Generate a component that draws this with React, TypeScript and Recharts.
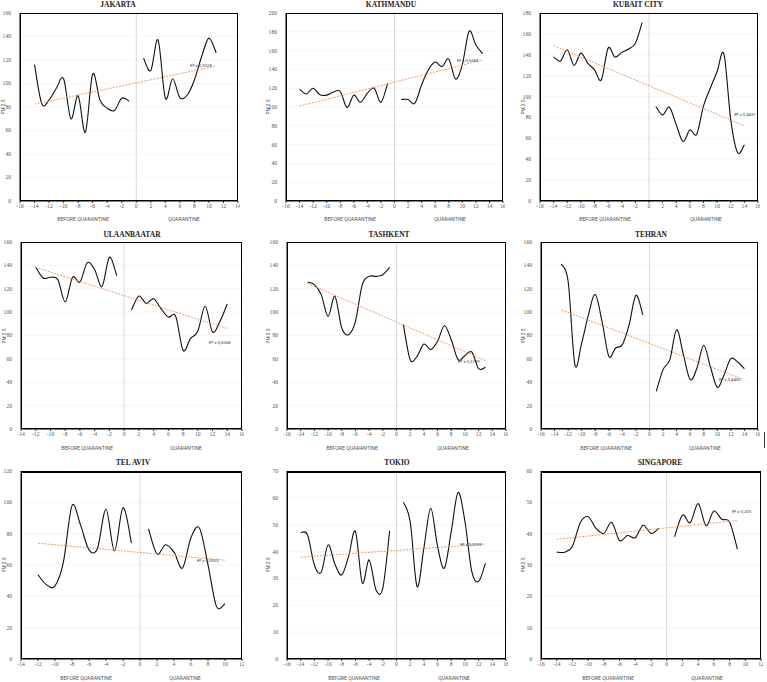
import React from 'react';
import { LineChart, Line, XAxis, YAxis, CartesianGrid, ReferenceLine, ReferenceDot } from 'recharts';

// ---------- categories (days) ----------
const before14 = [-14, -13, -12, -11, -10, -9, -8, -7, -6, -5, -4, -3, -2, -1];
const before13 = [-13, -12, -11, -10, -9, -8, -7, -6, -5, -4, -3, -2, -1];
const before12 = [-12, -11, -10, -9, -8, -7, -6, -5, -4, -3, -2, -1];
const quar9 = [1, 2, 3, 4, 5, 6, 7, 8, 9];
const quar10 = [1, 2, 3, 4, 5, 6, 7, 8, 9, 10];
const quar11 = [1, 2, 3, 4, 5, 6, 7, 8, 9, 10, 11];
const quar13 = [1, 2, 3, 4, 5, 6, 7, 8, 9, 10, 11, 12, 13];
const quar14 = [1, 2, 3, 4, 5, 6, 7, 8, 9, 10, 11, 12, 13, 14];

// ---------- tick labels ----------
const xTicksA = [-16, -14, -12, -10, -8, -6, -4, -2, 0, 2, 4, 6, 8, 10, 12, 14];
const xTicksB = [-16, -14, -12, -10, -8, -6, -4, -2, 0, 2, 4, 6, 8, 10, 12, 14, 16];
const xTicksC = [-14, -12, -10, -8, -6, -4, -2, 0, 2, 4, 6, 8, 10, 12, 14, 16];
const xTicksD = [-14, -12, -10, -8, -6, -4, -2, 0, 2, 4, 6, 8, 10, 12];
const xTicksE = [-16, -14, -12, -10, -8, -6, -4, -2, 0, 2, 4, 6, 8, 10, 12];
const yTicks160 = [0, 20, 40, 60, 80, 100, 120, 140, 160];
const yTicks180 = [0, 20, 40, 60, 80, 100, 120, 140, 160, 180];
const yTicks200 = [0, 20, 40, 60, 80, 100, 120, 140, 160, 180, 200];
const yTicks120 = [0, 20, 40, 60, 80, 100, 120];
const yTicks70 = [0, 10, 20, 30, 40, 50, 60, 70];
const yTicks60 = [0, 10, 20, 30, 40, 50, 60];

// ---------- series values (PM 2.5) ----------
const jakartaBefore = [116, 82.7, 86, 96, 104, 70, 89.5, 58.5, 108, 86, 79, 77, 87.5, 85];
const jakartaQuar = [121.6, 111, 137, 87.5, 104, 88, 90, 103, 123, 138.6, 126];
const jakartaTrend = [82.4, 114.8];

const kathmanduBefore = [119, 114, 120, 113, 112.6, 116, 116.5, 99.5, 112.6, 105, 114.7, 120, 105, 125.4];
const kathmanduQuar = [108, 108, 104, 123.6, 139.6, 147.8, 143, 151, 129.7, 145, 180.5, 166, 156.7];
const kathmanduTrend = [101, 150];

const kubaitBefore = [137.8, 134, 144.8, 129.8, 141.6, 132, 125.6, 116, 146.4, 137.8, 142.3, 145.5, 151, 171];
const kubaitQuar = [90.5, 82.5, 89.8, 72.9, 57, 68, 64, 91, 108, 124, 140.7, 77.7, 46.4, 53.7];
const kubaitTrend = [148.7, 72];

const ulaanBefore = [138.6, 129.2, 129.8, 127.8, 108.7, 129.8, 125.8, 142.3, 136.3, 122, 146.9, 131.2];
const ulaanQuar = [101.8, 113.8, 107.5, 111.5, 103, 95.8, 96.4, 67.3, 77.3, 83.6, 105, 83, 92, 107];
const ulaanTrend = [138.3, 85.9];

const tashkentBefore = [125.8, 123.5, 115, 96.4, 113.5, 86.4, 80.7, 92, 123.5, 130.6, 130.6, 132, 138.3];
const tashkentQuar = [89.3, 59.3, 62.2, 72.7, 67.9, 75, 88.4, 76.4, 59.3, 62.7, 65.9, 51.6, 52.8];
const tashkentTrend = [124.6, 58.5];

const tehranBefore = [141.2, 126.4, 55, 73.6, 97.8, 115, 92, 62.2, 69.3, 72.2, 89.3, 114.4, 97.8];
const tehranQuar = [32.2, 50.8, 59.3, 85, 63.6, 42.2, 52.2, 71.6, 52.8, 35.7, 46.5, 60.2, 57.3, 51.6];
const tehranTrend = [102, 42.2];

const telavivBefore = [53.7, 47.4, 46.7, 62.2, 97.9, 85.6, 69.7, 70.7, 95.6, 69, 96.6, 73.9];
const telavivQuar = [83, 67.1, 72.9, 68.2, 58, 77.5, 83.5, 60.1, 33.6, 35.3];
const telavivTrend = [73.9, 63.1];

const tokioBefore = [47.1, 46.2, 35, 32.3, 42.5, 35.3, 31.3, 38.2, 47.5, 28.3, 36.9, 25.8, 26.4, 47.7];
const tokioQuar = [58.4, 51.2, 27, 41.3, 56.1, 41.9, 33.8, 47.5, 62, 51.2, 32.6, 28.9, 35.7];
const tokioTrend = [37.9, 42.8];

const singaporeBefore = [34.1, 34.1, 36, 43.5, 45.4, 41.7, 40.1, 43.6, 37.8, 39.4, 38.7, 42.7, 40.1, 41.7];
const singaporeQuar = [39, 45.9, 43.5, 49.6, 42.6, 47.2, 44.6, 43.7, 35];
const singaporeTrend = [38.2, 44.2];

// Excel-like smoothed line (Catmull-Rom through each point)
function excelSmooth(context: any) {
  let pts: number[][] = [];
  return {
    areaStart() {},
    areaEnd() {},
    lineStart() {
      pts = [];
    },
    point(x: number, y: number) {
      pts.push([+x, +y]);
    },
    lineEnd() {
      const n = pts.length;
      if (!n) return;
      context.moveTo(pts[0][0], pts[0][1]);
      if (n === 1) {
        context.lineTo(pts[0][0], pts[0][1]);
        return;
      }
      for (let i = 0; i < n - 1; i++) {
        const p0 = pts[i - 1] || pts[i];
        const p1 = pts[i];
        const p2 = pts[i + 1];
        const p3 = pts[i + 2] || pts[i + 1];
        context.bezierCurveTo(
          p1[0] + (p2[0] - p0[0]) / 6,
          p1[1] + (p2[1] - p0[1]) / 6,
          p2[0] - (p3[0] - p1[0]) / 6,
          p2[1] - (p3[1] - p1[1]) / 6,
          p2[0],
          p2[1]
        );
      }
    },
  };
}

type Cfg = {
  title: string;
  titlePos: [number, number];
  plot: [number, number, number, number];
  xDomain: [number, number];
  xTicks: number[];
  yTicks: number[];
  bDays: number[];
  bVals: number[];
  qDays: number[];
  qVals: number[];
  trend: number[];
  r2: string;
  r2Pos: [number, number];
  labelsPos: [number, number, number];
  yLabelX: number;
  thickTop?: boolean;
};

const panels: Cfg[] = [
  { title: 'JAKARTA', titlePos: [118, 4], plot: [20, 13, 238, 201], xDomain: [-16, 14], xTicks: xTicksA, yTicks: yTicks160,
    bDays: before14, bVals: jakartaBefore, qDays: quar11, qVals: jakartaQuar, trend: jakartaTrend,
    r2: 'R² = 0,3528', r2Pos: [7.4, 115], labelsPos: [83, 184, 219], yLabelX: 3 },
  { title: 'KATHMANDU', titlePos: [391, 4], plot: [286, 13, 503, 201], xDomain: [-16, 16], xTicks: xTicksB, yTicks: yTicks200,
    bDays: before14, bVals: kathmanduBefore, qDays: quar13, qVals: kathmanduQuar, trend: kathmanduTrend,
    r2: 'R² = 0,5583', r2Pos: [9.2, 150], labelsPos: [350, 450, 219], yLabelX: 268 },
  { title: 'KUBAIT CITY', titlePos: [638, 4], plot: [540, 13, 758, 201], xDomain: [-16, 16], xTicks: xTicksB, yTicks: yTicks180,
    bDays: before14, bVals: kubaitBefore, qDays: quar14, qVals: kubaitQuar, trend: kubaitTrend,
    r2: 'R² = 0,4437', r2Pos: [12.5, 83.3], labelsPos: [605, 706, 219], yLabelX: 523 },
  { title: 'ULAANBAATAR', titlePos: [132, 234], plot: [21, 242, 242, 429], xDomain: [-14, 16], xTicks: xTicksC, yTicks: yTicks160,
    bDays: before12, bVals: ulaanBefore, qDays: quar14, qVals: ulaanQuar, trend: ulaanTrend,
    r2: 'R² = 0,6068', r2Pos: [11.5, 74.4], labelsPos: [87, 186, 448], yLabelX: 4 },
  { title: 'TASHKENT', titlePos: [389, 234], plot: [287, 242, 506, 429], xDomain: [-16, 16], xTicks: xTicksB, yTicks: yTicks160,
    bDays: before13, bVals: tashkentBefore, qDays: quar13, qVals: tashkentQuar, trend: tashkentTrend,
    r2: 'R² = 0,5739', r2Pos: [9, 58.2], labelsPos: [352, 453, 448], yLabelX: 268 },
  { title: 'TEHRAN', titlePos: [651, 234], plot: [541, 242, 758, 429], xDomain: [-16, 16], xTicks: xTicksB, yTicks: yTicks160,
    bDays: before13, bVals: tehranBefore, qDays: quar14, qVals: tehranQuar, trend: tehranTrend,
    r2: 'R² = 0,4406', r2Pos: [10.25, 42.8], labelsPos: [606, 705, 448], yLabelX: 523 },
  { title: 'TEL AVIV', titlePos: [133, 462], plot: [21, 471, 242, 659], xDomain: [-14, 12], xTicks: xTicksD, yTicks: yTicks120,
    bDays: before12, bVals: telavivBefore, qDays: quar10, qVals: telavivQuar, trend: telavivTrend,
    r2: 'R² = 0,0555', r2Pos: [6.7, 62.6], labelsPos: [86, 185, 678], yLabelX: 4, thickTop: true },
  { title: 'TOKIO', titlePos: [397, 462], plot: [287, 471, 506, 659], xDomain: [-16, 16], xTicks: xTicksB, yTicks: yTicks70,
    bDays: before14, bVals: tokioBefore, qDays: quar13, qVals: tokioQuar, trend: tokioTrend,
    r2: 'R² = 0,0209', r2Pos: [9.3, 42.8], labelsPos: [354, 454, 678], yLabelX: 268, thickTop: true },
  { title: 'SINGAPORE', titlePos: [660, 462], plot: [541, 471, 761, 659], xDomain: [-16, 12], xTicks: xTicksE, yTicks: yTicks60,
    bDays: before14, bVals: singaporeBefore, qDays: quar9, qVals: singaporeQuar, trend: singaporeTrend,
    r2: 'R² = 0,203', r2Pos: [8.3, 47.2], labelsPos: [608, 707, 678], yLabelX: 523, thickTop: true },
];

const tickStyle = { fontSize: 5.6, fill: '#555', fontFamily: '"Liberation Serif", serif' };
const labelFont = 'Roboto, "Liberation Sans", sans-serif';

function Panel({ c }: { c: Cfg }) {
  const [l, t, r, b] = c.plot;
  const yw = 20;
  const mt = 2;
  const mr = 2;
  const xh = 14;
  const W = r - l + yw + mr;
  const H = b - t + mt + xh;
  const data: any[] = [];
  c.bDays.forEach((d, i) => data.push({ x: d, before: c.bVals[i] }));
  c.qDays.forEach((d, i) => data.push({ x: d, quar: c.qVals[i] }));
  const yMax = c.yTicks[c.yTicks.length - 1];
  const tx0 = c.bDays[0];
  const tx1 = c.qDays[c.qDays.length - 1];
  return (
    <>
      <div
        style={{
          position: 'absolute', left: c.titlePos[0], top: c.titlePos[1], transform: 'translate(-50%, -50%)',
          fontFamily: '"Liberation Serif", serif', fontWeight: 'bold', fontSize: 7.5, color: '#222', whiteSpace: 'nowrap',
        }}
      >
        {c.title}
      </div>
      <div style={{ position: 'absolute', left: l - yw, top: t - mt }}>
        <LineChart width={W} height={H} data={data} margin={{ top: mt, right: mr, left: 0, bottom: 0 }}>
          <CartesianGrid vertical={false} stroke="#efefef" strokeWidth={0.6} />
          <XAxis
            type="number" dataKey="x" domain={c.xDomain} ticks={c.xTicks} interval={0} height={xh}
            tick={tickStyle} tickSize={2} tickMargin={1} stroke="#000" axisLine={{ stroke: '#000' }}
            tickLine={{ stroke: '#333' }}
          />
          <YAxis
            type="number" domain={[0, yMax]} ticks={c.yTicks} interval={0} width={yw}
            tick={tickStyle} tickLine={false} tickMargin={3} axisLine={{ stroke: '#000' }}
          />
          <ReferenceLine x={0} stroke="#cfcfcf" strokeWidth={0.8} />
          <Line
            dataKey="before" type={excelSmooth as any} stroke="#111" strokeWidth={1.1} dot={false}
            activeDot={false} isAnimationActive={false} connectNulls={false}
          />
          <Line
            dataKey="quar" type={excelSmooth as any} stroke="#111" strokeWidth={1.1} dot={false}
            activeDot={false} isAnimationActive={false} connectNulls={false}
          />
          <ReferenceLine
            segment={[{ x: tx0, y: c.trend[0] }, { x: tx1, y: c.trend[1] }]}
            stroke="#E8955A" strokeWidth={0.9} strokeDasharray="2 1.2"
          />
          <ReferenceDot
            x={c.r2Pos[0]} y={c.r2Pos[1]} r={0} fill="none" stroke="none"
            label={{ value: c.r2, position: 'right', offset: 0, fontSize: 4.3, fill: '#444', fontFamily: labelFont }}
          />
        </LineChart>
      </div>
      <div
        style={{
          position: 'absolute', left: l, top: t, width: r - l, height: b - t, boxSizing: 'border-box',
          border: '1.2px solid #000', borderTopWidth: c.thickTop ? 2 : 1.2, pointerEvents: 'none',
        }}
      />
      <div
        style={{
          position: 'absolute', left: c.yLabelX, top: (t + b) / 2, transform: 'translate(-50%, -50%) rotate(-90deg)',
          transformOrigin: 'center', fontFamily: labelFont, fontSize: 4.8, color: '#444', whiteSpace: 'nowrap',
        }}
      >
        PM 2.5
      </div>
      <div
        style={{
          position: 'absolute', left: c.labelsPos[0], top: c.labelsPos[2], transform: 'translate(-50%, -50%)',
          fontFamily: labelFont, fontSize: 5.2, color: '#555', whiteSpace: 'nowrap',
        }}
      >
        BEFORE QUARANTINE
      </div>
      <div
        style={{
          position: 'absolute', left: c.labelsPos[1], top: c.labelsPos[2], transform: 'translate(-50%, -50%)',
          fontFamily: labelFont, fontSize: 5.2, color: '#555', whiteSpace: 'nowrap',
        }}
      >
        QUARANTINE
      </div>
    </>
  );
}

export default function App() {
  return (
    <div
      style={{
        position: 'absolute', left: 0, top: 0, width: 767, height: 682, background: '#fff', overflow: 'hidden',
      }}
    >
      {panels.map((c) => (
        <Panel key={c.title} c={c} />
      ))}
      <div style={{ position: 'absolute', left: 764, top: 432, width: 1, height: 16, background: '#333' }} />
    </div>
  );
}
